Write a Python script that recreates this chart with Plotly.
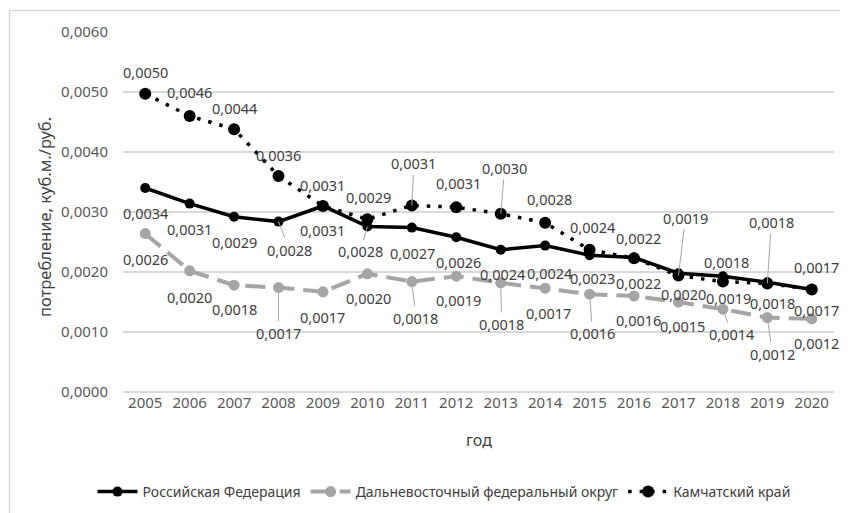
import plotly.graph_objects as go

years = list(range(2005, 2021))

rf = [0.00340, 0.00314, 0.00292, 0.00284, 0.00310, 0.00276, 0.00274, 0.00258,
      0.00237, 0.00244, 0.00228, 0.00224, 0.00198, 0.00193, 0.00183, 0.00171]
dfo = [0.00264, 0.00202, 0.00178, 0.00174, 0.00167, 0.00197, 0.00184, 0.00193,
       0.00182, 0.00173, 0.00163, 0.00160, 0.00150, 0.00138, 0.00124, 0.00122]
kam = [0.00497, 0.00460, 0.00438, 0.00360, 0.00310, 0.00288, 0.00311, 0.00308,
       0.00297, 0.00282, 0.00237, 0.00223, 0.00194, 0.00184, 0.00181, 0.00171]

names = ["Российская Федерация", "Дальневосточный федеральный округ", "Камчатский край"]

# label offsets in px (dx, dy screen-down) and whether a leader line is drawn
rf_off = [(0, 25), (0, 25), (0, 25), (11, 28), (0, 24), (-7, 25), (1, 25), (2, 25),
          (2, 24), (4, 27), (3, 23), (4, 25), (5, 21), (6, 22), (5, 21), (5, 21)]
rf_lead = [3, 5]
kam_off = [(0, -22), (0, -24), (0, -21), (0, -21), (0, -21), (1, -22), (2, -42), (2, -24),
           (4, -46), (4, -24), (3, -23), (4, -20), (7, -58), (4, -20), (4, -61), (5, -22)]
kam_lead = [6, 8, 12, 14]
dfo_off = [(0, 25), (0, 26), (0, 24), (0, 45), (0, 25), (1, 24), (4, 36), (2, 24),
           (1, 41), (3, 25), (3, 39), (4, 24), (4, 24), (9, 25), (5, 36), (5, 24)]
dfo_lead = [3, 6, 8, 10, 13, 14]

# page has an 8px body margin, so the figure is drawn 8px smaller and all
# pixel positions below are page positions minus 8
W, H = 840, 505
L, R, T, B = 115, 826, 24, 384


def px_x(p):
    return (p - 8 - L) / (R - L)


def px_y(p):
    return (B - (p - 8)) / (B - T)


fig = go.Figure()
fig.add_trace(go.Scatter(
    x=years, y=rf, name=names[0], mode="lines+markers",
    line=dict(color="black", width=3.5),
    marker=dict(color="black", size=10)
))
fig.add_trace(go.Scatter(
    x=years, y=dfo, name=names[1], mode="lines+markers",
    line=dict(color="#a5a5a5", width=4, dash="20px,9px"),
    marker=dict(color="#a5a5a5", size=11)
))
fig.add_trace(go.Scatter(
    x=years, y=kam, name=names[2], mode="lines+markers",
    line=dict(color="black", width=3.5, dash="3.5px,8px"),
    marker=dict(color="black", size=12)
))


def fmt(v):
    return f"{v:.4f}".replace(".", ",")


lab_font = dict(family="Noto Sans, sans-serif", size=14.5, color="#404040")
annotations = []
for vals, offs, leads in [(rf, rf_off, rf_lead), (dfo, dfo_off, dfo_lead), (kam, kam_off, kam_lead)]:
    for i, v in enumerate(vals):
        dx, dy = offs[i]
        if i in leads:
            annotations.append(dict(
                x=years[i], y=v, text=fmt(v), showarrow=True, arrowhead=0,
                arrowwidth=1, arrowcolor="#a6a6a6", ax=dx, ay=dy, standoff=0,
                font=lab_font
            ))
        else:
            annotations.append(dict(
                x=years[i], y=v, text=fmt(v), showarrow=False,
                xshift=dx, yshift=-dy, font=lab_font
            ))

annotations.append(dict(
    x=px_x(45), y=px_y(217), xref="paper", yref="paper",
    xanchor="center", yanchor="middle",
    text="потребление, куб.м./руб.", textangle=-90, showarrow=False,
    font=dict(size=16.5, color="#404040")
))
annotations.append(dict(
    x=0.5, y=px_y(440), xref="paper", yref="paper",
    xanchor="center", yanchor="middle",
    text="год", showarrow=False, font=dict(size=16, color="#404040")
))

fig.update_layout(
    width=W,
    height=H,
    paper_bgcolor="white",
    plot_bgcolor="white",
    separators=",",
    font=dict(family="Noto Sans, sans-serif", size=15, color="#595959"),
    margin=dict(l=L, r=W - R, t=T, b=H - B, autoexpand=False),
    showlegend=True,
    legend=dict(
        orientation="h", x=px_x(444), xanchor="center", y=px_y(492), yanchor="middle",
        font=dict(size=14, color="#404040"), itemwidth=40
    ),
    xaxis=dict(
        range=[2004.5, 2020.5], dtick=1, tickformat="d", automargin=False,
        showgrid=False, showline=False, zeroline=False, ticks="",
        tickfont=dict(size=15, color="#595959")
    ),
    yaxis=dict(
        range=[0, 0.006], dtick=0.001, tickformat=".4f", automargin=False,
        showgrid=True, gridcolor="#d9d9d9", gridwidth=1.5, zeroline=True,
        zerolinecolor="#d9d9d9", zerolinewidth=1.5,
        tickfont=dict(size=15, color="#595959"), ticklabelstandoff=14
    ),
    annotations=annotations,
    shapes=[dict(
        type="rect", xref="paper", yref="paper",
        x0=px_x(9.5), x1=px_x(870), y0=px_y(540), y1=px_y(10.5),
        line=dict(color="#d9d9d9", width=1.5)
    )]
)

fig.write_html("out.html")
